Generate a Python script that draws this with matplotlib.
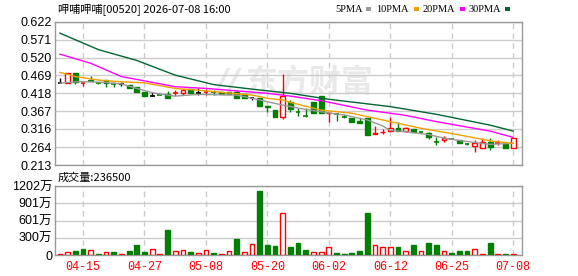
import matplotlib
matplotlib.use('Agg')
import matplotlib.pyplot as plt
import numpy as np

# ---- data ----
dates = ['04-15', '04-27', '05-08', '05-20', '06-02', '06-12', '06-25', '07-08']
date_idx = [3, 11, 19, 27, 35, 43, 51, 59]

opens = [0.448, 0.448, 0.475, 0.446, 0.455, 0.449, 0.456, 0.445, 0.444, 0.442,
         0.435, 0.423, 0.411, 0.414, 0.415, 0.417, 0.418, 0.429, 0.420, 0.420,
         0.422, 0.423, 0.423, 0.423, 0.415, 0.404, 0.404, 0.383, 0.370, 0.351,
         0.394, 0.365, 0.355, 0.394, 0.410, 0.361, 0.359, 0.352, 0.347, 0.340,
         0.347, 0.302, 0.306, 0.311, 0.318, 0.311, 0.315, 0.309, 0.304, 0.279,
         0.284, 0.288, 0.284, 0.273, 0.267, 0.261, 0.280, 0.276, 0.272, 0.261]
highs = [0.462, 0.475, 0.475, 0.451, 0.468, 0.451, 0.456, 0.450, 0.449, 0.442,
         0.435, 0.423, 0.423, 0.414, 0.425, 0.427, 0.430, 0.429, 0.432, 0.430,
         0.427, 0.423, 0.423, 0.427, 0.415, 0.408, 0.404, 0.383, 0.370, 0.473,
         0.398, 0.375, 0.375, 0.394, 0.410, 0.366, 0.363, 0.359, 0.347, 0.346,
         0.347, 0.325, 0.315, 0.349, 0.335, 0.321, 0.315, 0.309, 0.307, 0.292,
         0.295, 0.288, 0.284, 0.275, 0.284, 0.290, 0.290, 0.284, 0.272, 0.289]
lows = [0.448, 0.448, 0.444, 0.439, 0.452, 0.444, 0.437, 0.437, 0.440, 0.432,
        0.423, 0.411, 0.411, 0.412, 0.405, 0.410, 0.414, 0.420, 0.413, 0.413,
        0.413, 0.416, 0.416, 0.405, 0.405, 0.400, 0.383, 0.364, 0.351, 0.345,
        0.366, 0.353, 0.351, 0.363, 0.363, 0.337, 0.340, 0.346, 0.337, 0.332,
        0.299, 0.302, 0.302, 0.311, 0.311, 0.307, 0.306, 0.307, 0.286, 0.270,
        0.279, 0.286, 0.275, 0.270, 0.249, 0.261, 0.256, 0.270, 0.261, 0.261]
closes = [0.448, 0.475, 0.451, 0.447, 0.453, 0.448, 0.447, 0.444, 0.444, 0.432,
          0.423, 0.411, 0.411, 0.413, 0.405, 0.418, 0.427, 0.420, 0.420, 0.421,
          0.421, 0.416, 0.416, 0.405, 0.405, 0.404, 0.383, 0.378, 0.351, 0.410,
          0.372, 0.364, 0.354, 0.363, 0.363, 0.363, 0.358, 0.351, 0.337, 0.332,
          0.299, 0.304, 0.308, 0.318, 0.311, 0.318, 0.306, 0.308, 0.292, 0.278,
          0.291, 0.287, 0.275, 0.272, 0.275, 0.280, 0.265, 0.277, 0.261, 0.289]
kcolor = list('kr' + 'grgggg' + 'kggg' + 'kgg' + 'rrgkr' + 'gggggk' + 'gggr'
              + 'gggggr' + 'ggggg' + 'rrrgr' + 'ggggr' + 'gggrr' + 'grgr')

# volume in 万
volume = [17, 52, 75, 104, 87, 23, 52, 58, 23, 75,
          174, 58, 104, 17, 435, 70, 87, 52, 35, 81,
          35, 17, 70, 278, 52, 191, 1114, 174, 157, 725,
          139, 209, 87, 52, 52, 134, 35, 17, 35, 70,
          731, 168, 134, 134, 139, 70, 174, 70, 209, 174,
          70, 35, 70, 70, 99, 17, 209, 17, 17, 23.65]
vcolor = list('rrggrgrgrg' + 'ggrrgrrgrr' + 'grrgrrgggr' + 'gggrrrgggg'
              + 'grrrgrgrgg' + 'rgggrrgrgr')

# moving averages sampled along the lines (index, value)
ma5_i = [0, 2, 4, 6, 8, 10, 12, 14, 15, 18, 23, 26, 28, 30, 32, 35, 37, 40, 42, 43, 45, 48, 50, 52, 56, 59]
ma5_v = [0.447, 0.451, 0.451, 0.449, 0.445, 0.432, 0.420, 0.413, 0.410, 0.415, 0.413, 0.399, 0.389,
         0.380, 0.372, 0.362, 0.356, 0.342, 0.325, 0.312, 0.308, 0.300, 0.290, 0.283, 0.272, 0.275]
ma10_i = [0, 2, 5, 8, 11, 15, 18, 25, 27, 29, 30, 34, 38, 43, 47, 52, 56, 59]
ma10_v = [0.478, 0.466, 0.456, 0.451, 0.448, 0.432, 0.427, 0.413, 0.404, 0.399, 0.392, 0.370,
          0.361, 0.337, 0.318, 0.299, 0.282, 0.275]
ma20_i = [0, 4, 8, 15, 19, 27, 30, 34, 40, 45, 49, 56, 59]
ma20_v = [0.530, 0.504, 0.466, 0.437, 0.432, 0.418, 0.410, 0.397, 0.370, 0.355, 0.337, 0.310, 0.292]
ma30_i = [0, 5, 10, 15, 20, 25, 30, 35, 43, 49, 56, 59]
ma30_v = [0.590, 0.543, 0.512, 0.470, 0.443, 0.430, 0.418, 0.401, 0.380, 0.358, 0.327, 0.310]

price_ticks = [0.213, 0.264, 0.316, 0.367, 0.418, 0.469, 0.520, 0.571, 0.622]
vol_ticks = [0, 300, 601, 901, 1202]
vol_labels = ['0', '300万', '601万', '901万', '1202万']

RED = '#ff0000'
GREEN = '#008000'
colmap = {'r': RED, 'g': GREEN, 'k': '#000000'}
MA_COLORS = ['#999999', '#f0a000', '#ff00ff', '#006633']

fig = plt.figure(figsize=(5.78, 2.76), dpi=100)
ax = fig.add_axes([55 / 578, 1 - 165 / 276, 467 / 578, 143 / 276])
axv = fig.add_axes([55 / 578, 1 - 255 / 276, 467 / 578, 69 / 276])

x = np.arange(len(closes))
w = 0.62

for a in (ax, axv):
    a.set_xlim(-0.65, 60.15)
    for s in a.spines.values():
        s.set_color('#999999')
        s.set_linewidth(1)
    a.tick_params(length=0)
    for xi in date_idx:
        a.axvline(xi, color='#cccccc', lw=1, ls=(0, (4, 3)), zorder=0)

# watermark
ax.text(0.545, 0.57, '东方财富', transform=ax.transAxes, fontsize=23, fontweight='bold',
        color='#e9e9e9', ha='center', va='center', zorder=0.5,
        family=['Noto Sans CJK SC'])
ax.text(0.37, 0.57, '//', transform=ax.transAxes, fontsize=24, fontweight='bold',
        fontstyle='italic', color='#e9e9e9', ha='center', va='center', zorder=0.5)

# price panel
ax.set_ylim(price_ticks[0], price_ticks[-1])
ax.set_yticks(price_ticks)
ax.set_yticklabels(['%.3f' % t for t in price_ticks])
ax.grid(axis='y', color='#cccccc', lw=1, ls='-')
ax.set_axisbelow(True)
ax.set_xticks([])

for i in x:
    c = colmap[kcolor[i]]
    ax.vlines(i, lows[i], highs[i], color=c, lw=1, zorder=2)
    lo = min(opens[i], closes[i])
    hi = max(opens[i], closes[i])
    if hi - lo < 0.0015:
        ax.hlines(closes[i], i - w / 2, i + w / 2, color=c, lw=1.2, zorder=3)
    elif kcolor[i] == 'r':
        ax.bar(i, hi - lo, w, lo, facecolor='white', edgecolor=c, lw=1, zorder=3)
    else:
        ax.bar(i, hi - lo, w, lo, facecolor=c, edgecolor=c, lw=1, zorder=3)

for xi, yv, col in zip([ma5_i, ma10_i, ma20_i, ma30_i], [ma5_v, ma10_v, ma20_v, ma30_v], MA_COLORS):
    ax.plot(xi, yv, color=col, lw=1, zorder=4)

for lab in ax.get_yticklabels():
    lab.set_family('Liberation Sans')
    lab.set_fontsize(9)

# volume panel
axv.set_ylim(0, 1202)
axv.set_yticks(vol_ticks)
axv.set_yticklabels(vol_labels)
axv.grid(axis='y', color='#cccccc', lw=1, ls='-')
axv.set_axisbelow(True)
for i in x:
    c = colmap[vcolor[i]]
    if vcolor[i] == 'r':
        axv.bar(i, volume[i], w, facecolor='white', edgecolor=c, lw=1, zorder=3)
    else:
        axv.bar(i, volume[i], w, facecolor=c, edgecolor=c, lw=1, zorder=3)
axv.set_xticks(date_idx)
axv.set_xticklabels(dates)
for lab in axv.get_xticklabels():
    lab.set_family('Liberation Mono')
    lab.set_fontsize(8.5)
    lab.set_color(RED)
for lab in axv.get_yticklabels():
    lab.set_family(['Liberation Sans', 'Noto Sans CJK SC'])
    lab.set_fontsize(9)
axv.tick_params(axis='x', pad=4)
axv.tick_params(axis='y', pad=2)
ax.tick_params(axis='y', pad=2)

# titles and legend
fig.text(58 / 578, 1 - 9 / 276, '呷哺呷哺[00520] 2026-07-08 16:00', fontsize=8,
         family=['Noto Sans CJK SC'], va='center', ha='left')
fig.text(58 / 578, 1 - 178 / 276, '成交量:236500', fontsize=8,
         family=['Noto Sans CJK SC'], va='center', ha='left')

leg_end = [363, 409, 455, 501]
leg_names = ['5PMA', '10PMA', '20PMA', '30PMA']
for lx, name in zip(leg_end, leg_names):
    fig.text(lx / 578, 1 - 9 / 276, name, fontsize=7.5, family='Liberation Serif',
             va='center', ha='right')
for lx, col in zip([366, 414, 460, 505], MA_COLORS):
    fig.patches.append(plt.Rectangle((lx / 578, 1 - 11 / 276), 5 / 578, 4 / 276,
                                     transform=fig.transFigure, facecolor=col,
                                     edgecolor='none', figure=fig))

fig.savefig('out.png', dpi=100)
